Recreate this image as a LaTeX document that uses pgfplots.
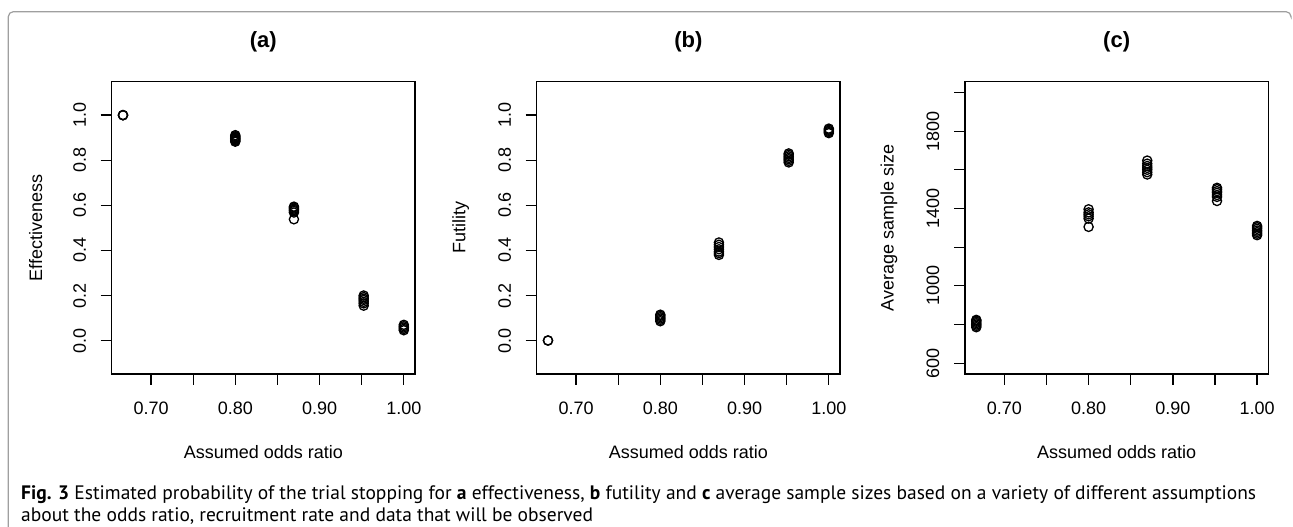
\documentclass[border=0pt]{standalone}
\usepackage{fontspec}
\setmainfont{Liberation Sans}
\newfontfamily\capfont{PT Sans}
\usepackage{pgfplots}
\pgfplotsset{compat=1.18}

\pgfplotsset{rplot/.style={
  scale only axis, width=303.3pt, height=292.3pt,
  anchor=south west, clip=false,
  xmin=0.6533, xmax=1.0133,
  axis line style={line width=1.3pt, black},
  every tick/.style={line width=1.3pt, black},
  tick align=outside, major tick length=11pt,
  xtick={0.70,0.75,0.80,0.85,0.90,0.95,1.00},
  xticklabels={0.70,,0.80,,0.90,,1.00},
  xtick pos=bottom, ytick pos=left,
  minor tick num=0,
  xticklabel style={anchor=north, inner sep=0pt},
  yticklabel style={rotate=90, anchor=south, inner sep=0pt},
  xticklabel shift=16.5pt, yticklabel shift=14.5pt,
  tick label style={font=\fontsize{18}{21}\selectfont},
  label style={font=\fontsize{18}{21}\selectfont},
  xlabel={Assumed odds ratio},
  xlabel style={at={(axis description cs:0.5,-0.2668)}, anchor=center},
  ylabel style={at={(axis description cs:-0.2506,0.5)}, anchor=center},
  every axis title/.style={at={(axis description cs:0.5,1.1368)}, anchor=center,
     font=\bfseries\fontsize{22}{26}\selectfont},
}, rmarks/.style={only marks, mark=o, mark size=4.6pt, black,
     mark options={line width=1.3pt, draw=black, fill=none}}}

\begin{document}
\begin{tikzpicture}
\path[use as bounding box] (0pt,0pt) rectangle (1293pt,527pt);
\draw[gray!75, line width=1.2pt, rounded corners=5pt]
  (8.3pt,-2pt) -- (8.3pt,515.3pt) -- (1291pt,515.3pt) -- (1291pt,511pt);

% (a) Effectiveness
\begin{axis}[rplot, at={(111.7pt,153pt)},
  ymin=-0.148, ymax=1.148,
  ytick={0,0.2,0.4,0.6,0.8,1.0},
  yticklabels={0.0,0.2,0.4,0.6,0.8,1.0},
  ylabel={Effectiveness}, title={(a)}]
\addplot[rmarks] coordinates {
 (0.6667,1.000) (0.6667,0.999) (0.6667,1.000)
 (0.8,0.882) (0.8,0.886) (0.8,0.890) (0.8,0.894) (0.8,0.898) (0.8,0.902) (0.8,0.906) (0.8,0.911)
 (0.8696,0.538) (0.8696,0.568) (0.8696,0.575) (0.8696,0.580) (0.8696,0.585) (0.8696,0.590) (0.8696,0.594)
 (0.9524,0.155) (0.9524,0.165) (0.9524,0.172) (0.9524,0.180) (0.9524,0.186) (0.9524,0.193) (0.9524,0.200)
 (1.0,0.046) (1.0,0.052) (1.0,0.058) (1.0,0.064) (1.0,0.070)
};
\end{axis}

% (b) Futility
\begin{axis}[rplot, at={(536.7pt,153pt)},
  ymin=-0.148, ymax=1.148,
  ytick={0,0.2,0.4,0.6,0.8,1.0},
  yticklabels={0.0,0.2,0.4,0.6,0.8,1.0},
  ylabel={Futility}, title={(b)}]
\addplot[rmarks] coordinates {
 (0.6667,0.000) (0.6667,0.001)
 (0.8,0.086) (0.8,0.092) (0.8,0.098) (0.8,0.104) (0.8,0.110) (0.8,0.115)
 (0.8696,0.380) (0.8696,0.388) (0.8696,0.395) (0.8696,0.405) (0.8696,0.415) (0.8696,0.425) (0.8696,0.435)
 (0.9524,0.790) (0.9524,0.797) (0.9524,0.804) (0.9524,0.810) (0.9524,0.817) (0.9524,0.824) (0.9524,0.830)
 (1.0,0.920) (1.0,0.925) (1.0,0.930) (1.0,0.935) (1.0,0.940)
};
\end{axis}

% (c) Average sample size
\begin{axis}[rplot, at={(965pt,153pt)},
  ymin=544, ymax=2056,
  ytick={600,800,1000,1200,1400,1600,1800,2000},
  yticklabels={600,,1000,,1400,,1800,},
  ylabel={Average sample size}, title={(c)}]
\addplot[rmarks] coordinates {
 (0.6667,786) (0.6667,793) (0.6667,800) (0.6667,807) (0.6667,814) (0.6667,820) (0.6667,824)
 (0.8,1305) (0.8,1348) (0.8,1360) (0.8,1370) (0.8,1380) (0.8,1396)
 (0.8696,1576) (0.8696,1588) (0.8696,1600) (0.8696,1610) (0.8696,1620) (0.8696,1632) (0.8696,1648)
 (0.9524,1439) (0.9524,1460) (0.9524,1470) (0.9524,1481) (0.9524,1490) (0.9524,1500) (0.9524,1507)
 (1.0,1262) (1.0,1270) (1.0,1278) (1.0,1286) (1.0,1295) (1.0,1303) (1.0,1310)
};
\end{axis}

\node[anchor=base west, inner sep=0pt, font=\capfont\fontsize{19.5}{23}\selectfont] at (21pt,27.5pt)
 {\textbf{Fig. 3} Estimated probability of the trial stopping for \textbf{a} effectiveness, \textbf{b} futility and \textbf{c} average sample sizes based on a variety of different assumptions};
\node[anchor=base west, inner sep=0pt, font=\capfont\fontsize{19.5}{23}\selectfont] at (21pt,5.5pt)
 {about the odds ratio, recruitment rate and data that will be observed};
\end{tikzpicture}
\end{document}
